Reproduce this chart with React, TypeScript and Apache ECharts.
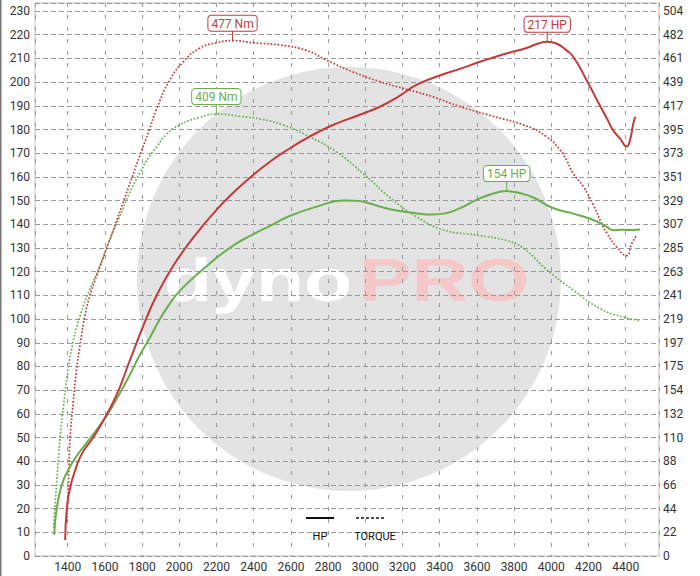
import React, { useEffect, useRef } from "react";
import * as echarts from "echarts";

// ---- axis setup ----
const NM_PER_HP_UNIT = 2.193; // right-axis (Nm) ticks = left-axis ticks * this ratio
const RPM_MIN = 1224;
const RPM_MAX = 4579;
const HP_MAX = 233.4;
const RPM_STEP = 200;
const HP_STEP = 10;

// ---- tuned run (red) ----
const redHpRpm = [1386, 1395, 1412, 1439, 1475, 1537, 1590, 1635, 1679, 1724, 1768, 1821, 1875, 1937, 2001, 2091, 2180, 2270, 2378, 2480, 2593, 2700, 2826, 2950, 3078, 3180, 3275, 3400, 3508, 3632, 3767, 3867, 3930, 3978, 4030, 4080, 4118, 4190, 4262, 4300, 4333, 4370, 4405, 4423, 4441, 4452];
const redHp = [6.8, 20, 28.5, 36, 43, 50, 57, 63.5, 71, 80.5, 89.5, 100, 109.5, 118.5, 126.5, 136, 144.3, 151.8, 159.5, 166, 172, 177, 181.9, 185.6, 189.6, 194, 198.8, 202.8, 205.6, 209, 212.3, 214.4, 216.3, 217, 216.2, 213.5, 210.7, 200.8, 190, 184.5, 179.6, 176.2, 172.8, 175.5, 182.6, 185.3];

const redTqRpm = [1395, 1404, 1412, 1430, 1448, 1466, 1492, 1519, 1555, 1608, 1652, 1697, 1741, 1786, 1840, 1876, 1947, 2019, 2109, 2199, 2286, 2400, 2539, 2683, 2791, 2934, 3078, 3221, 3364, 3508, 3687, 3867, 3975, 4046, 4083, 4118, 4172, 4226, 4270, 4298, 4351, 4405, 4432, 4459];
const redTqNm = [32, 69, 108, 143, 173, 195, 222, 241, 259, 284, 305, 327, 348, 370, 395, 413, 440, 457, 470, 475, 477, 475, 473, 468, 459, 448, 439, 432, 425, 416, 407, 398, 388, 376, 366, 354, 342, 325, 308, 299, 286, 278, 289, 297];

// ---- stock run (green) ----
const greenHpRpm = [1327, 1341, 1368, 1404, 1448, 1519, 1590, 1635, 1679, 1732, 1786, 1839, 1892, 1946, 2001, 2127, 2270, 2378, 2500, 2593, 2737, 2880, 2950, 3006, 3100, 3185, 3280, 3347, 3420, 3500, 3598, 3680, 3760, 3840, 3903, 3993, 4060, 4118, 4226, 4298, 4333, 4370, 4405, 4440, 4477];
const greenHp = [8.9, 20, 30, 36.5, 42.2, 49.5, 57, 62.5, 68.5, 76.2, 84.6, 91.8, 99.5, 106.2, 111.8, 121, 130, 135, 139.8, 143.5, 147.4, 150, 149.9, 149.2, 147, 145.6, 144.6, 144.1, 144.5, 146.5, 150.3, 152.8, 154, 153, 151.3, 147.4, 145.6, 144.5, 141.8, 138.9, 137.5, 137.7, 137.6, 137.6, 137.8];

const greenTqRpm = [1324, 1341, 1359, 1377, 1395, 1421, 1466, 1519, 1572, 1626, 1679, 1732, 1786, 1839, 1884, 1929, 2001, 2109, 2199, 2324, 2450, 2557, 2701, 2845, 2988, 3131, 3275, 3418, 3598, 3760, 3849, 3975, 4118, 4262, 4369, 4477];
const greenTqNm = [26, 69, 109, 139, 164, 192, 222, 247, 268, 293, 314, 336, 354, 370, 380, 390, 399, 406, 409, 407, 404, 399, 388, 374, 354, 332, 314, 302, 297, 292, 285, 265, 246, 229, 222, 218];

const RED = "#c23b3b";
const GREEN = "#6aae4e";
const FONT = "Roboto, 'Noto Sans', sans-serif";

export default function App() {
  const ref = useRef<HTMLDivElement>(null);

  useEffect(() => {
    const chart = echarts.init(ref.current!, null, { renderer: "svg" });
    const zip = (xs: number[], ys: number[]) => xs.map((x, i) => [x, ys[i]]);
    const isStep = (v: number, step: number) => {
      const k = v / step;
      return Math.abs(k - Math.round(k)) < 1e-6;
    };
    const peak = (color: string, unit: string) => ({
      symbol: "rect",
      symbolSize: [1, 10],
      symbolOffset: [0, -5],
      silent: true,
      itemStyle: { color },
      label: {
        show: true,
        position: "top",
        distance: 0,
        formatter: (p: any) => `${Math.round(p.value)} ${unit}`,
        color,
        backgroundColor: "#ffffff",
        borderColor: color,
        borderWidth: 1,
        borderRadius: 3,
        padding: [2, 3, 1, 3],
        fontSize: 12,
        lineHeight: 12,
        fontFamily: FONT,
      },
      data: [{ type: "max", valueDim: "y" }],
    });
    const hpLine = (name: string, color: string, data: number[][]) => ({
      name,
      type: "line",
      data,
      yAxisIndex: 0,
      showSymbol: false,
      smooth: 0.5,
      lineStyle: { color, width: 2 },
      itemStyle: { color },
      z: 4,
      markPoint: peak(color, "HP"),
    });
    const tqLine = (name: string, color: string, data: number[][]) => ({
      name,
      type: "line",
      data,
      yAxisIndex: 1,
      showSymbol: false,
      smooth: 0.5,
      lineStyle: { color, width: 1.7, type: [1.7, 1.8] },
      itemStyle: { color },
      z: 3,
      markPoint: peak(color, "Nm"),
    });

    chart.setOption({
      animation: false,
      backgroundColor: "#ffffff",
      grid: {
        left: 35,
        right: 41,
        top: 3,
        bottom: 20,
        show: true,
        borderColor: "#bdbdbd",
        borderWidth: 1,
        backgroundColor: "transparent",
      },
      xAxis: {
        type: "value",
        min: RPM_MIN,
        max: RPM_MAX,
        minInterval: RPM_STEP,
        maxInterval: RPM_STEP,
        axisLine: { show: false },
        axisTick: { show: false },
        axisLabel: {
          margin: 5,
          color: "#333",
          fontSize: 12,
          fontFamily: FONT,
          formatter: (v: number) => (isStep(v, RPM_STEP) ? String(v) : ""),
        },
        splitLine: { show: true, lineStyle: { color: "#9a9a9a", width: 1, type: [4, 8] } },
      },
      yAxis: [
        {
          type: "value",
          min: 0,
          max: HP_MAX,
          minInterval: HP_STEP,
          maxInterval: HP_STEP,
          axisLine: { show: false },
          axisTick: { show: false },
          axisLabel: {
            margin: 5,
            color: "#333",
            fontSize: 12,
            fontFamily: FONT,
            formatter: (v: number) => (isStep(v, HP_STEP) ? String(Math.round(v)) : ""),
          },
          splitLine: { show: true, lineStyle: { color: "#9a9a9a", width: 1, type: [5, 3] } },
        },
        {
          type: "value",
          position: "right",
          min: 0,
          max: HP_MAX * NM_PER_HP_UNIT,
          minInterval: HP_STEP * NM_PER_HP_UNIT,
          maxInterval: HP_STEP * NM_PER_HP_UNIT,
          axisLine: { show: false },
          axisTick: { show: false },
          axisLabel: {
            margin: 4,
            color: "#333",
            fontSize: 12,
            fontFamily: FONT,
            formatter: (v: number) => (isStep(v, HP_STEP * NM_PER_HP_UNIT) ? String(Math.round(v)) : ""),
          },
          splitLine: { show: false },
        },
      ],
      graphic: [
        { type: "rect", z: -20, silent: true, shape: { x: 0, y: 0, width: 1.5, height: 576 }, style: { fill: "#777" } },
        { type: "circle", z: -10, silent: true, shape: { cx: 349, cy: 279, r: 212 }, style: { fill: "#e3e3e3" } },
        {
          type: "text", z: -9, silent: true, x: 164, y: 280, scaleX: 1.27,
          style: { text: "dyno", fill: "#ffffff", font: "bold 62px 'Liberation Sans', Arial, sans-serif", align: "left", verticalAlign: "middle" },
        },
        {
          type: "text", z: -9, silent: true, x: 359, y: 280, scaleX: 1.27,
          style: { text: "PRO", fill: "#f4c8c8", font: "bold 62px 'Liberation Sans', Arial, sans-serif", align: "left", verticalAlign: "middle" },
        },
        { type: "line", z: 50, silent: true, shape: { x1: 306, y1: 518, x2: 334, y2: 518 }, style: { stroke: "#111", lineWidth: 2 } },
        { type: "line", z: 50, silent: true, shape: { x1: 356, y1: 518, x2: 386, y2: 518 }, style: { stroke: "#111", lineWidth: 1.5, lineDash: [3, 2] } },
        { type: "text", z: 50, silent: true, x: 320, y: 536, style: { text: "HP", fill: "#111", font: `11px ${FONT}`, align: "center", verticalAlign: "middle" } },
        { type: "text", z: 50, silent: true, x: 375, y: 536, style: { text: "TORQUE", fill: "#111", font: `11px ${FONT}`, align: "center", verticalAlign: "middle" } },
      ],
      series: [
        tqLine("Stock torque", GREEN, zip(greenTqRpm, greenTqNm)),
        hpLine("Stock HP", GREEN, zip(greenHpRpm, greenHp)),
        tqLine("Tuned torque", RED, zip(redTqRpm, redTqNm)),
        hpLine("Tuned HP", RED, zip(redHpRpm, redHp)),
      ],
    });

    return () => chart.dispose();
  }, []);

  return (
    <div
      ref={ref}
      style={{ position: "absolute", left: 0, top: 0, width: 700, height: 576, background: "#fff" }}
    />
  );
}
